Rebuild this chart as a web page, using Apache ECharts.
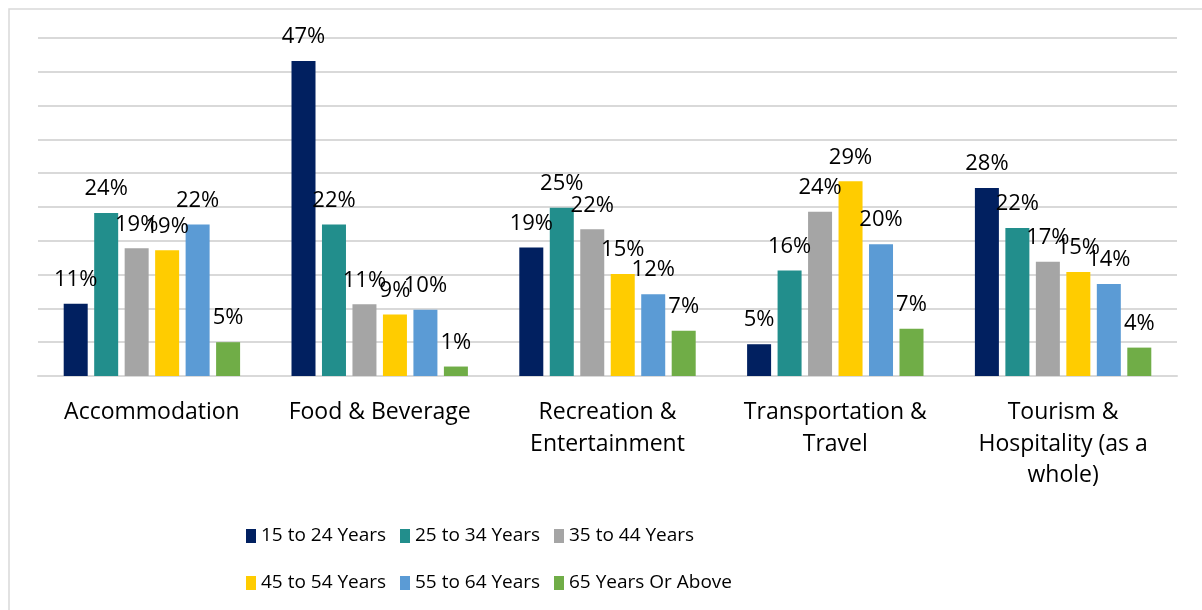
<!DOCTYPE html>
<html>
<head>
<meta charset="utf-8">
<script src="https://cdn.jsdelivr.net/npm/echarts@6/dist/echarts.min.js"></script>
<style>
  html, body { margin: 0; padding: 0; background: #fff; }
  #chart { width: 1202px; height: 610px; }
</style>
</head>
<body>
<div id="chart"></div>
<script>
// categories (line breaks as in the original chart)
var sectors = ['Accommodation', 'Food & Beverage', 'Recreation &\nEntertainment',
               'Transportation &\nTravel', 'Tourism &\nHospitality (as a\nwhole)'];

// share of each age group per sector, %
var age15to24 = [10.7, 46.6, 19.0, 4.7, 27.8];
var age25to34 = [24.1, 22.4, 24.9, 15.6, 21.9];
var age35to44 = [18.9, 10.6, 21.7, 24.3, 16.9];
var age45to54 = [18.6, 9.1, 15.1, 28.8, 15.4];
var age55to64 = [22.4, 9.8, 12.1, 19.5, 13.6];
var age65plus = [5.0, 1.4, 6.7, 7.0, 4.2];

var groupNames = ['15 to 24 Years', '25 to 34 Years', '35 to 44 Years',
                  '45 to 54 Years', '55 to 64 Years', '65 Years Or Above'];
var groupData = [age15to24, age25to34, age35to44, age45to54, age55to64, age65plus];
var colors = ['#012060', '#228E8C', '#A5A5A5', '#FFCC00', '#5B9BD5', '#70AD47'];

var font = '"Open Sans", "Noto Sans", sans-serif';

var chart = echarts.init(document.getElementById('chart'));

var series = groupNames.map(function (name, i) {
    return {
        name: name,
        type: 'bar',
        data: groupData[i],
        barWidth: 24,
        barGap: '27%',
        itemStyle: { color: colors[i] },
        label: {
            show: true,
            position: 'top',
            distance: 13,
            color: '#000',
            fontFamily: font,
            fontSize: 22,
            formatter: function (p) { return Math.round(p.value) + '%'; }
        }
    };
});

// legend laid out as three columns of two rows
function legendColumn(names, left) {
    return {
        data: names,
        left: left,
        top: 520,
        orient: 'vertical',
        icon: 'rect',
        itemWidth: 10,
        itemHeight: 14,
        itemGap: 25,
        selectedMode: false,
        textStyle: {
            fontFamily: font,
            fontSize: 19,
            color: '#000',
            lineHeight: 22
        }
    };
}

chart.setOption({
    animation: false,
    color: colors,
    graphic: [{
        type: 'rect',
        shape: { x: 9, y: 9, width: 1210, height: 620 },
        style: { fill: 'none', stroke: '#D9D9D9', lineWidth: 1.5 },
        silent: true
    }],
    legend: [
        legendColumn([groupNames[0], groupNames[3]], 241),
        legendColumn([groupNames[1], groupNames[4]], 395),
        legendColumn([groupNames[2], groupNames[5]], 549)
    ],
    grid: { left: 38, right: 25, top: 38, bottom: 234 },
    xAxis: {
        type: 'category',
        data: sectors,
        axisTick: { show: false },
        axisLine: { lineStyle: { color: '#D9D9D9', width: 2 } },
        axisLabel: {
            interval: 0,
            margin: 21,
            color: '#000',
            fontFamily: font,
            fontSize: 23,
            lineHeight: 31.5
        }
    },
    yAxis: {
        type: 'value',
        min: 0,
        max: 50,
        interval: 5,
        axisLabel: { show: false },
        axisLine: { show: false },
        axisTick: { show: false },
        splitLine: { lineStyle: { color: '#D9D9D9', width: 2 } }
    },
    series: series
});
</script>
</body>
</html>
